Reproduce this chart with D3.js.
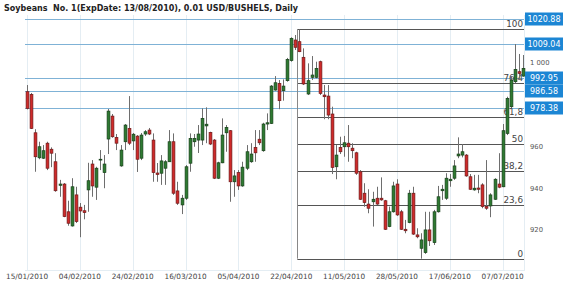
<!DOCTYPE html>
<html><head><meta charset="utf-8">
<script src="https://cdn.jsdelivr.net/npm/d3@7/dist/d3.min.js"></script>
<style>html,body{margin:0;padding:0;background:#fff;}svg{display:block;}</style>
</head><body>
<svg id="c" width="570" height="291"></svg>
<script>
const title = "Soybeans  No. 1(ExpDate: 13/08/2010), 0.01 USD/BUSHELS, Daily";
const dates = [
"15/01/2010","19/01/2010","20/01/2010","21/01/2010","22/01/2010","25/01/2010","26/01/2010","27/01/2010","28/01/2010","29/01/2010",
"01/02/2010","02/02/2010","03/02/2010","04/02/2010","05/02/2010","08/02/2010","09/02/2010","10/02/2010","11/02/2010","12/02/2010",
"16/02/2010","17/02/2010","18/02/2010","19/02/2010","22/02/2010","23/02/2010","24/02/2010","25/02/2010","26/02/2010",
"02/03/2010","03/03/2010","04/03/2010","05/03/2010","08/03/2010","09/03/2010","10/03/2010","11/03/2010","12/03/2010","15/03/2010",
"16/03/2010","17/03/2010","18/03/2010","19/03/2010","22/03/2010","23/03/2010","24/03/2010","25/03/2010","26/03/2010","29/03/2010",
"30/03/2010","31/03/2010","01/04/2010","05/04/2010","06/04/2010","07/04/2010","08/04/2010","09/04/2010","12/04/2010","13/04/2010",
"14/04/2010","15/04/2010","16/04/2010","19/04/2010","20/04/2010","21/04/2010","22/04/2010","23/04/2010","26/04/2010","27/04/2010",
"28/04/2010","29/04/2010","30/04/2010","03/05/2010","04/05/2010","05/05/2010","06/05/2010","07/05/2010","10/05/2010","11/05/2010",
"12/05/2010","13/05/2010","14/05/2010","17/05/2010","18/05/2010","19/05/2010","20/05/2010","21/05/2010","24/05/2010","25/05/2010",
"26/05/2010","27/05/2010","28/05/2010","01/06/2010","02/06/2010","03/06/2010","04/06/2010","07/06/2010","08/06/2010","09/06/2010",
"10/06/2010","11/06/2010","14/06/2010","15/06/2010","16/06/2010","17/06/2010","18/06/2010","21/06/2010","22/06/2010","23/06/2010",
"24/06/2010","25/06/2010","28/06/2010","29/06/2010","30/06/2010","01/07/2010","02/07/2010","06/07/2010","07/07/2010","08/07/2010",
"09/07/2010","12/07/2010","13/07/2010","14/07/2010"];
const open = [
986.2,984.9,966.5,954.5,954.3,961.5,958.6,952.6,941.3,941.9,
928.6,921.8,936.7,930.8,929.1,939.1,951.5,940.4,953.4,947.4,
963.5,974.5,964.3,950.6,962.2,968.6,962.6,964.9,954.3,965.9,
967.8,963.0,947.2,947.1,949.5,952.6,962.2,938.6,931.9,935.1,
951.9,962.2,963.0,963.0,969.8,966.7,963.0,944.7,952.1,966.5,
967.5,943.0,947.4,941.0,949.5,952.6,959.5,963.4,957.9,970.7,
971.0,987.0,990.2,986.7,991.5,1001.1,1011.0,1010.2,1002.7,985.1,
993.1,993.1,1000.6,984.6,984.1,975.5,950.2,959.5,959.8,961.5,
959.1,956.9,947.8,937.5,932.3,933.4,935.1,935.1,933.9,921.5,
928.6,941.9,928.6,920.2,923.4,937.5,917.5,911.1,909.0,919.9,
913.8,928.6,938.7,935.1,943.5,944.7,955.4,955.8,955.8,945.4,
939.1,940.0,941.5,931.1,931.4,934.6,941.9,940.6,966.2,979.0,
991.0,995.8,993.7];
const high = [
989.4,985.6,968.2,962.2,960.6,962.2,959.5,956.7,943.9,942.4,
933.9,944.7,940.6,932.8,931.9,952.1,953.4,950.2,958.2,955.8,
977.9,975.5,965.9,960.6,970.7,984.1,966.4,965.4,966.4,967.8,
968.8,966.2,952.0,955.8,953.4,967.8,966.2,943.0,936.7,951.0,
966.2,965.9,970.2,978.2,978.7,967.0,963.5,952.6,973.4,970.2,
967.8,948.6,948.6,952.6,960.6,961.5,967.8,967.8,971.3,975.8,
989.4,993.7,991.8,992.1,1002.4,1012.3,1013.4,1016.1,1007.0,999.8,
1003.3,1000.6,1001.1,989.4,989.4,979.0,960.6,964.6,965.0,970.2,
961.5,957.4,948.6,942.3,939.4,938.2,940.6,945.1,934.3,931.1,
943.0,944.2,929.5,924.7,939.1,940.6,920.7,918.3,928.6,928.6,
929.5,941.0,941.5,947.1,946.7,953.4,964.3,961.1,956.3,946.7,
946.3,946.3,942.3,953.4,937.5,944.7,956.7,970.7,983.8,993.4,
1009.04,1004.3,1003.8];
const low = [
977.7,968.3,947.8,953.8,953.9,948.6,950.0,938.2,935.8,926.0,
921.9,921.5,923.2,916.4,925.0,928.6,935.8,934.3,948.6,939.9,
956.3,964.1,958.2,950.2,958.2,960.6,958.2,947.7,953.4,965.0,
965.4,943.0,943.0,941.5,941.5,952.5,936.7,931.9,927.5,934.3,
947.8,959.8,956.8,960.6,961.5,960.6,944.3,944.3,951.9,957.4,
933.4,935.8,939.1,940.6,948.6,952.1,952.6,960.6,957.4,967.8,
970.7,986.7,977.8,981.9,991.0,1000.6,1006.2,1005.2,989.4,984.6,
991.8,992.6,984.6,973.0,973.0,946.7,944.2,956.3,955.0,952.6,
954.3,946.3,934.3,931.0,927.9,921.5,931.9,933.9,919.9,921.2,
928.2,926.6,919.9,918.3,923.1,917.5,915.9,906.1,908.4,912.2,
912.7,928.2,934.3,934.3,940.6,943.9,954.3,954.7,945.4,939.1,
938.7,937.5,930.3,929.5,926.0,934.3,939.9,940.4,965.4,978.2,
990.2,991.8,993.4];
const close = [
978.2,968.6,955.0,959.8,957.9,949.5,956.7,938.7,941.9,926.3,
923.1,940.6,923.9,929.0,928.2,943.5,941.0,949.5,953.8,951.5,
976.9,964.6,961.5,958.2,970.2,961.5,965.8,953.8,965.4,967.0,
965.9,947.4,946.5,953.0,952.6,962.2,937.5,932.7,935.1,950.2,
963.8,963.8,965.9,973.4,970.6,961.1,944.7,952.1,965.4,969.1,
943.0,945.8,941.0,950.0,957.4,956.3,956.9,961.7,970.7,971.3,
988.9,990.5,981.9,988.9,1001.7,1011.8,1007.5,1005.4,989.9,991.5,
994.2,997.4,985.4,983.8,975.0,949.9,955.8,957.4,961.7,959.8,
957.9,947.1,934.6,933.0,930.3,934.6,932.3,934.3,920.2,928.6,
941.0,927.1,920.2,919.5,937.5,917.9,916.6,915.1,919.9,914.7,
928.6,935.8,939.4,944.7,944.2,950.6,956.3,957.4,945.8,939.4,
939.9,939.4,931.1,930.3,936.7,944.2,940.4,967.5,983.0,991.8,
996.9,995.0,997.4];
const tickDates = ["15/01/2010","04/02/2010","24/02/2010","16/03/2010","05/04/2010","22/04/2010","11/05/2010","28/05/2010","17/06/2010","07/07/2010"];
const yTicks = [920, 940, 960, 1000];
const yTickLabels = ["920", "940", "960", "1 000"];
const levels = [1020.88, 1009.04, 992.95, 986.58, 978.38];
const levelLabels = ["1020.88", "1009.04", "992.95", "986.58", "978.38"];
const fibRatios = [0, 23.6, 38.2, 50, 61.8, 76.4, 100];
const fibLabels = ["0", "23,6", "38,2", "50", "61,8", "76,4", "100"];

const svg = d3.select("#c");
const L = 25, R = 525, T = 15, B = 270;
const x = d3.scaleBand().domain(dates).range([L, R]).padding(0);
const y = d3.scaleLinear().domain([900, 1030]).range([271.4, 0.4]);
const bw = x.bandwidth();
const cx = d => x(d) + bw / 2;
const FONT = "DejaVu Sans, Verdana, sans-serif";

// title
svg.append("text").attr("x", 4).attr("y", 11).attr("font-family", FONT)
  .attr("font-weight", "bold").attr("font-size", 8).attr("fill", "#222").style("white-space", "pre").text(title);

// vertical gridlines
const g0 = svg.append("g");
g0.selectAll("line.vg").data(tickDates).join("line")
  .attr("x1", d => Math.round(cx(d)) + 0.5).attr("x2", d => Math.round(cx(d)) + 0.5)
  .attr("y1", T).attr("y2", B).attr("stroke", "#e4edf3").attr("stroke-width", 1);
g0.append("line").attr("x1", R - 0.5).attr("x2", R - 0.5).attr("y1", T).attr("y2", B).attr("stroke", "#e4edf3");
g0.append("line").attr("x1", L).attr("x2", R).attr("y1", B + 0.5).attr("y2", B + 0.5).attr("stroke", "#e4edf3");

// x labels
svg.append("g").selectAll("text").data(tickDates).join("text")
  .attr("x", d => cx(d)).attr("y", 279).attr("text-anchor", "middle")
  .attr("font-family", FONT).attr("font-size", 7.3).attr("fill", "#444").text(d => d);

// y labels
svg.append("g").selectAll("text").data(yTicks).join("text")
  .attr("x", 530).attr("y", d => y(d) + 2.5)
  .attr("font-family", FONT).attr("font-size", 6.8).attr("fill", "#555")
  .text((d, i) => yTickLabels[i]);

// level lines
svg.append("g").selectAll("line").data(levels).join("line")
  .attr("x1", L).attr("x2", R - 1).attr("y1", d => Math.round(y(d)) + 0.5).attr("y2", d => Math.round(y(d)) + 0.5)
  .attr("stroke", "#7fb2d6").attr("stroke-width", 1);

// fibonacci
const iMax = d3.maxIndex(high), iMin = d3.minIndex(low);
const fHigh = high[iMax], fLow = low[iMin];
const fx0 = x(dates[iMax]);
const fib = svg.append("g");
fib.selectAll("line").data(fibRatios).join("line")
  .attr("x1", fx0).attr("x2", R - 1)
  .attr("y1", d => Math.round(y(fLow + (fHigh - fLow) * d / 100)) + 0.5)
  .attr("y2", d => Math.round(y(fLow + (fHigh - fLow) * d / 100)) + 0.5)
  .attr("stroke", "#555").attr("stroke-width", 1);
fib.append("line").attr("x1", Math.round(fx0) + 0.5).attr("x2", Math.round(fx0) + 0.5)
  .attr("y1", y(fHigh)).attr("y2", y(fLow)).attr("stroke", "#888").attr("stroke-width", 1);
fib.selectAll("text").data(fibRatios).join("text")
  .attr("x", R - 2).attr("y", d => y(fLow + (fHigh - fLow) * d / 100) - 2).attr("text-anchor", "end")
  .attr("font-family", FONT).attr("font-size", 8.8).attr("fill", "#444")
  .text((d, i) => fibLabels[i]);

// candles
const cg = svg.append("g");
dates.forEach((d, i) => {
  const o = open[i], h = high[i], l = low[i], c = close[i];
  const up = c >= o;
  const xc = Math.round(cx(d)) + 0.5;
  cg.append("line").attr("x1", xc).attr("x2", xc).attr("y1", y(h)).attr("y2", y(l))
    .attr("stroke", "#6e6e6e").attr("stroke-width", 1);
  const yt = y(Math.max(o, c)), yb = y(Math.min(o, c));
  cg.append("rect").attr("x", xc - 1.4).attr("width", 2.8)
    .attr("y", yt).attr("height", Math.max(0.8, yb - yt))
    .attr("fill", up ? "#2e7a31" : "#cf2a2a").attr("stroke", up ? "#163f18" : "#6e1818").attr("stroke-width", 0.7);
});

// level boxes
const lb = svg.append("g");
levels.forEach((v, i) => {
  const yy = Math.round(y(v));
  lb.append("rect").attr("x", 525).attr("y", yy - 6.5).attr("width", 38).attr("height", 13).attr("fill", "#1c86d4");
  lb.append("text").attr("x", 544).attr("y", yy + 3).attr("text-anchor", "middle")
    .attr("font-family", FONT).attr("font-size", 8).attr("fill", "#fff").text(levelLabels[i]);
});
</script>
</body></html>
